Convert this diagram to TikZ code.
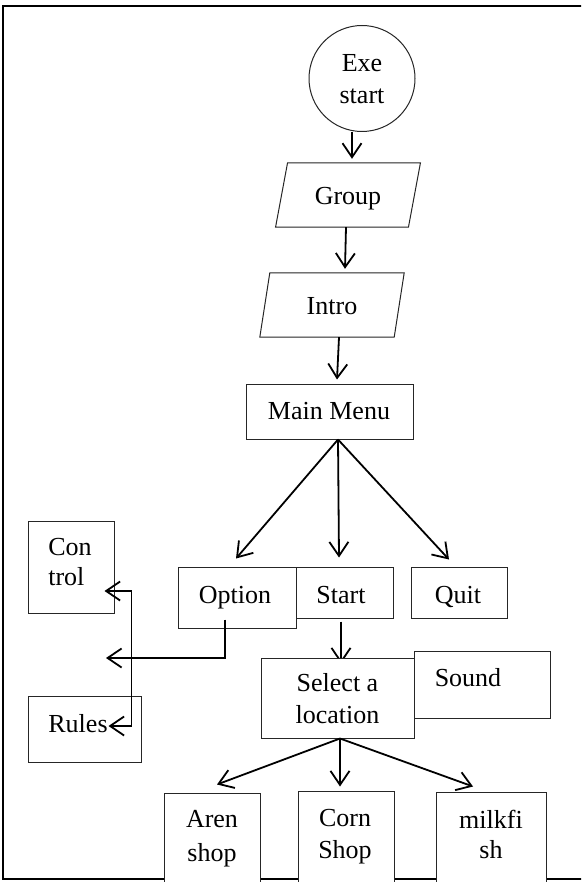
\documentclass[tikz,border=0pt]{standalone}
\usepackage{fontspec}
\setmainfont{Liberation Serif}
\usetikzlibrary{arrows.meta,backgrounds}
\begin{document}
\begin{tikzpicture}[x=1pt,y=-1pt,
  box/.style={draw=black!85, line width=1pt, fill=white, inner sep=0pt},
  lbl/.style={inner sep=0pt, font=\fontsize{26}{32}\selectfont, align=center,
    text height=24pt, text depth=5.5pt},
  arr/.style={line width=1.8pt, -{Straight Barb[length=14pt,width=19pt]}},
  barb/.tip={Straight Barb[length=14pt,width=19pt]}]
\useasboundingbox (0,0) rectangle (581,882);
\clip (0,0) rectangle (581,882);
% outer frame
\draw[line width=1.8pt] (590,6) -- (3,6) -- (3,879) -- (590,879);

% nodes
\node[box, shape=circle, minimum size=106pt] (exe) at (362,78.5) {};
\node[lbl] (exet) at (362,94) {Exe\\start};
\node[inner sep=0pt, minimum width=132.5pt, minimum height=64pt] (grp) at (348,195) {};
\draw[line width=1pt, draw=black!85, fill=white]
  ([xshift=6pt]grp.north west) -- ([xshift=6pt]grp.north east) --
  ([xshift=-6pt]grp.south east) -- ([xshift=-6pt]grp.south west) -- cycle;
\node[lbl] (grpt) at (348,195) {Group};
\node[inner sep=0pt, minimum width=134pt, minimum height=64pt] (intro) at (332,305) {};
\draw[line width=1pt, draw=black!85, fill=white]
  ([xshift=5pt]intro.north west) -- ([xshift=5pt]intro.north east) --
  ([xshift=-5pt]intro.south east) -- ([xshift=-5pt]intro.south west) -- cycle;
\node[lbl] (introt) at (332,305) {Intro};

\node[box, minimum width=167pt, minimum height=55pt] (mm) at (329.5,411.5) {};
\node[lbl] (mmt) at (329,410) {Main Menu};
\node[box, minimum width=85.5pt, minimum height=92pt] (ctl) at (71.25,567) {};
\node[lbl, align=left, font=\fontsize{26}{30}\selectfont] (ctlt) at (70,576) {Con\\trol};
\node[box, minimum width=118pt, minimum height=61pt] (opt) at (237,597.5) {};
\node[lbl] (optt) at (235,594) {Option};
\node[box, minimum width=97pt, minimum height=51pt] (st) at (344.5,592.5) {};
\node[lbl] (stt) at (341,594) {Start};
\node[box, minimum width=96pt, minimum height=51pt] (qt) at (459,592.5) {};
\node[lbl] (qtt) at (458,594) {Quit};
\node[box, minimum width=153pt, minimum height=80pt] (sel) at (337.5,698) {};
\node[lbl] (selt) at (337.5,714) {Select a\\location};
\node[box, minimum width=136pt, minimum height=67pt] (snd) at (482,684.5) {};
\node[lbl] (sndt) at (468,677) {Sound};
\node[box, minimum width=112.5pt, minimum height=66pt] (rul) at (84.75,729) {};
\node[lbl] (rult) at (78,723) {Rules};
\node[box, minimum width=96pt, minimum height=107pt] (aren) at (212,846.5) {};
\node[lbl, font=\fontsize{26}{34}\selectfont] (arent) at (212,852) {Aren\\shop};
\node[box, minimum width=96pt, minimum height=109pt] (corn) at (346,845.5) {};
\node[lbl] (cornt) at (345,849) {Corn\\Shop};
\node[box, minimum width=110pt, minimum height=108pt] (milk) at (491,846) {};
\node[lbl, font=\fontsize{26}{30}\selectfont] (milkt) at (491,849) {milkfi\\sh};

% connectors
\draw[arr] ([xshift=-10pt]exe.south) -- ([xshift=4pt,yshift=4pt]grp.north);
\draw[arr] ([xshift=-2pt]grp.south) -- ([xshift=13pt,yshift=4pt]intro.north);
\draw[arr] ([xshift=7pt]intro.south) -- ([xshift=7.5pt,yshift=4pt]mm.north);
\draw[arr] ([xshift=8.5pt]mm.south) -- ([xshift=-1pt,yshift=8pt]opt.north);
\draw[arr] ([xshift=8.5pt]mm.south) -- ([xshift=-5.5pt,yshift=9pt]st.north);
\draw[arr] ([xshift=8.5pt]mm.south) -- ([xshift=-10pt,yshift=7pt]qt.north);
\begin{pgfonlayer}{background}
\draw[arr] ([xshift=-3.5pt,yshift=-3pt]st.south) -- ([xshift=3.5pt,yshift=-6pt]sel.north);
\end{pgfonlayer}
\coordinate (optend) at (106,658);
\draw[arr] ([xshift=-12pt,yshift=9pt]opt.south) |- (optend);
\draw[line width=1.8pt, barb-barb] ([xshift=-10pt,yshift=-24pt]ctl.east) -- ++(27,0)
  |- ([xshift=-33pt,yshift=3pt]rul.east);
\draw[arr] ([xshift=2.5pt]sel.south) -- ([xshift=5pt,yshift=8pt]aren.north);
\draw[arr] ([xshift=2.5pt]sel.south) -- ([xshift=-6pt,yshift=4pt]corn.north);
\draw[arr] ([xshift=2.5pt]sel.south) -- ([xshift=-18pt,yshift=5pt]milk.north);
\end{tikzpicture}
\end{document}
